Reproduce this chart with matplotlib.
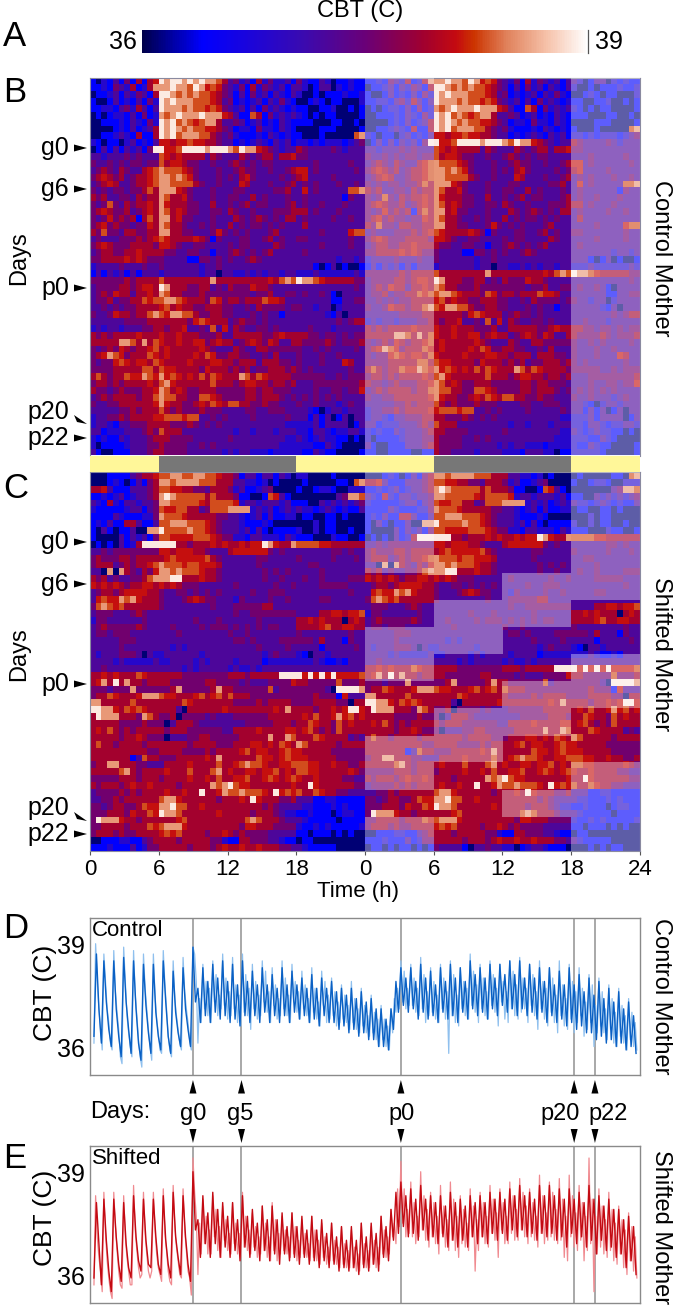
import numpy as np
import matplotlib
matplotlib.use("Agg")
import matplotlib.pyplot as plt
from matplotlib.colors import LinearSegmentedColormap, Normalize
from matplotlib.patches import Polygon, Rectangle

plt.rcParams['font.family'] = ['Liberation Sans', 'DejaVu Sans']

W, H = 675, 1306

# Temperature (C) for each digit used in the heatmap rows
temp_levels = [36.1, 36.4, 36.85, 37.25, 37.55, 37.9, 38.13, 38.3, 38.55, 38.9]

control_rows = [
    "102131415156 989989898875 342315242231 421132011211",
    "112143251258 889887986764 324152432313 320133021211",
    "011231324315 998787877654 313142313213 200101112112",
    "100131213142 989888777653 412123132421 001210110002",
    "112213425313 988878776764 323131423212 110011200101",
    "010122131412 878988898886 531175142323 210101100001",
    "001112132142 989787678853 343123121321 111000110010",
    "000012131235 989878776654 312214221321 000011100001",
    "001123215115 989788877543 421112132121 100010000078",
    "210110231213 665667665543 312123213231 221212221234",
    "013131323149 966799998999 879886543233 543333432333",
    "332333434333 765655553543 335434553556 443333333333",
    "433434344344 756654433433 454343443333 333433333433",
    "345435433567 877765433343 345443343345 663433333343",
    "456545345567 887876433343 435643333434 563333433333",
    "345653345567 887777543343 336533343345 343433343343",
    "434344344575 888654333433 344333334453 363433333778",
    "545334435455 875564333433 443353433343 343333331433",
    "434743545565 865554433533 434534433345 343343334333",
    "456544534565 875654433443 543343334445 553433343333",
    "434645451575 885644333433 354345434355 343333433433",
    "456454434465 875543343433 534344343433 353333333333",
    "547443554455 885544333464 343433345333 333343333677",
    "343334445456 765555654143 334433453433 443333333433",
    "456544455554 665433443333 434433335433 333343333433",
    "345544556555 544334433133 454343453333 343333333333",
    "445555656544 433331144343 433454333333 333333323323",
    "233334333433 433333323343 333333333333 333101301001",
    "131323131333 233333323303 322323233233 222322222232",
    "444444545555 755555555855 555555565787 988765555544",
    "344445545665 985554455343 544465543333 333333333343",
    "345465535565 875544454444 444434453344 343343103333",
    "344534455767 788765554764 554555766533 333333113344",
    "334343445555 675655445554 433435444434 433233023333",
    "433465545578 768877544554 433343433133 333332130333",
    "333333444455 555554676555 345443433333 333333343455",
    "232332333445 545563343736 354334434333 334333233333",
    "545455556555 655655544453 355555445655 554434434344",
    "555558875857 655655664565 534565465335 544445434445",
    "434546545567 565555565433 354335544444 433434333343",
    "456876455576 565555657644 554433435333 433343343333",
    "434467656657 655556555665 545553555443 433343336533",
    "444455555775 766555546555 454534455545 434333333433",
    "575455766876 867656575765 558757655554 444443343444",
    "455454555565 786555555755 545665545545 333444444445",
    "544345444556 875654455544 444554554443 333433443446",
    "345455554557 877554477654 444554555434 343434343333",
    "433445555556 865544565765 775544544333 433433323433",
    "333334454555 754544454443 333443344433 332102332333",
    "233445455556 677767733434 333343333343 331313013033",
    "233213344455 554445434343 333333333322 222313333013",
    "331222333454 755533333333 323323332333 221332122332",
    "212113233345 554444333333 433333333322 321232211010",
    "201111233344 544443343433 333333333222 222113210000",
    "310011133345 544443333332 323322212222 211321100001",
    "110011110011 544333323333 222133322011 222221000001",
]

shifted_rows = [
    "000111134556 778877887765 541331331320 220000100000",
    "000121013145 887888877755 533221201000 010000011078",
    "556311133345 776655443555 423112340000 100122100222",
    "112123123345 898777775755 541100176310 000000034887",
    "321521332334 887777765777 762332333231 110032323234",
    "211111233134 766775534777 888823231232 322123212113",
    "111132111224 877765555544 332123131122 011001101000",
    "121311553113 778887776543 332111210000 000201100000",
    "103101130088 977778776543 332313101111 200201100100",
    "100003132314 776666777654 422133222132 111000211001",
    "010103125999 999554555656 556566986558 777766555555",
    "334344444444 665666554333 566666643433 333333443433",
    "454445545555 567666667543 333334433333 433333433343",
    "455534545567 877767766653 333334333333 334433333333",
    "330808543546 887877765543 333333434343 333343333333",
    "545343344578 889955565543 333333433433 343343333444",
    "656565455665 656544433333 343333334334 333344444333",
    "345545666655 433443434343 333343344433 333333333433",
    "367668786555 433345654433 324333343343 333344333333",
    "478767555555 433333333433 344444553333 333333333333",
    "344433345433 333333333333 343344444444 333355665667",
    "244333333433 333333433343 333334333333 556565550565",
    "345444445433 334333343444 343434344333 555567556655",
    "344344433333 333433333333 433433333333 433333333433",
    "333334443333 333333333333 344343333444 444353331433",
    "333334333333 332323333333 333334333343 333313333343",
    "323334443032 233333323333 333333234333 210332333333",
    "333323222223 223333232333 323333122222 222321121333",
    "334333333333 333323233333 232232333333 333333333333",
    "556565557655 555544444444 555455555999 969696966667",
    "568595855455 554444445544 443433344446 554444474445",
    "444344484444 445844444585 544444473444 444443099998",
    "455765556888 766555675675 755544444444 444544416333",
    "885555575555 555576555555 544445455554 444555544055",
    "998865767655 555305555556 555555556585 555455656996",
    "598885554875 445044443433 344444455555 565755686756",
    "555554444544 403555433333 333444445554 557655475655",
    "565754545555 545554444443 355556555566 567545475555",
    "555554556544 403334455444 445555585587 555765555343",
    "575545555455 555554555544 455566565765 875555545555",
    "555555555544 555544445455 556756655676 655555444444",
    "555555513755 444555556585 555557665676 665555544444",
    "455885554433 355556555575 567877655667 776655655445",
    "555557854555 565557555785 655665667565 776655555654",
    "444445554555 455556556575 566755676567 655655554433",
    "545554565565 555455555878 976655555556 559655555544",
    "344445454555 565565595568 778777659676 755765544333",
    "334454555555 788655555545 556596555445 333112211111",
    "443455445766 889775565555 555555454333 322111212111",
    "444555465576 988755555565 555545554322 112111012211",
    "498886554555 555675555555 555787555433 321111101111",
    "445555455576 788865555555 554665554444 211212111112",
    "455545445555 676755554556 545444433333 110111010100",
    "001112211345 555455555442 115544433211 011000000000",
    "111211131244 555554555456 556556555443 321111100000",
    "011010110101 433331033433 220123321110 000101011000",
]

# Right half of panel C: lit hours per block of rows (block edges in rows)
shade_edges = [0, 14.7, 18.6, 22.5, 26.4, 30.4, 34.3, 38.3, 42.1, 46.2, 50.1, 55]
shade_spans = [
    [(0, 6), (18, 24)], [(12, 24)], [(6, 18)], [(0, 12)], [(0, 6), (18, 24)],
    [(12, 24)], [(6, 18)], [(0, 12)], [(0, 6), (18, 24)], [(12, 24)], [(0, 6), (18, 24)],
]

# Light/dark cycle along the bar, hours
cycle_edges = [0, 6, 18, 30, 42, 48]
cycle_colors = ['#fff799', '#777777', '#fff799', '#777777', '#fff799']

hour_ticks = [0, 6, 12, 18, 24, 30, 36, 42, 48]
hour_labels = ['0', '6', '12', '18', '0', '6', '12', '18', '24']

# Marked days on the bottom traces
mark_days = [10.0, 14.9, 31.0, 48.5, 50.6]
mark_labels = ['g0', 'g5', 'p0', 'p20', 'p22']

# Traces, 0.1 C. Light: six readings a day. Dark: four readings a day.
control_light = [
    362, 391, 380, 372, 366, 360, 388, 380, 372, 368, 362, 360,
    389, 377, 371, 366, 358, 356, 390, 380, 370, 365, 361, 358,
    389, 376, 370, 363, 358, 355, 388, 378, 372, 366, 361, 357,
    388, 376, 369, 365, 360, 359, 389, 379, 372, 364, 360, 358,
    386, 375, 370, 366, 362, 360, 387, 377, 372, 368, 363, 360,
    390, 388, 380, 362, 375, 368, 385, 372, 380, 370, 378, 368,
    386, 374, 382, 370, 376, 372, 388, 373, 381, 369, 377, 370,
    387, 372, 379, 368, 376, 367, 388, 371, 382, 370, 378, 366,
    385, 372, 380, 369, 376, 370, 386, 374, 383, 371, 377, 368,
    384, 373, 379, 369, 375, 370, 386, 372, 381, 370, 376, 368,
    385, 374, 380, 371, 377, 369, 383, 372, 379, 370, 375, 368,
    384, 371, 378, 369, 374, 367, 383, 373, 380, 368, 376, 369,
    381, 370, 377, 367, 374, 368, 379, 369, 376, 368, 373, 366,
    380, 368, 375, 366, 372, 365, 378, 367, 373, 365, 370, 364,
    376, 365, 371, 363, 369, 361, 373, 363, 369, 361, 367, 360,
    372, 365, 375, 371, 378, 372, 386, 374, 383, 372, 378, 373,
    385, 373, 381, 371, 378, 370, 387, 372, 382, 368, 377, 370,
    384, 371, 380, 369, 376, 368, 385, 372, 381, 369, 377, 359,
    386, 370, 382, 368, 376, 367, 384, 372, 380, 370, 378, 369,
    388, 373, 383, 371, 379, 368, 385, 372, 381, 370, 377, 369,
    386, 373, 382, 371, 378, 367, 385, 374, 380, 369, 377, 368,
    386, 372, 383, 370, 379, 369, 387, 371, 381, 372, 378, 368,
    385, 373, 382, 370, 377, 366, 386, 372, 380, 369, 378, 367,
    384, 371, 381, 368, 376, 365, 386, 370, 379, 367, 375, 366,
    385, 369, 380, 365, 377, 368, 384, 370, 378, 364, 374, 366,
    382, 368, 379, 361, 373, 365, 381, 367, 377, 365, 372, 363,
    379, 366, 375, 362, 371, 361, 378, 364, 373, 362, 370, 360,
    375, 363, 371, 361, 368, 360,
]
control_dark = [
    364, 388, 372, 362, 386, 374, 366, 361, 386, 372, 364, 358,
    387, 374, 366, 359, 386, 372, 362, 357, 385, 373, 365, 359,
    385, 371, 364, 360, 386, 374, 364, 359, 383, 371, 365, 361,
    384, 372, 366, 361, 390, 374, 378, 368, 384, 370, 380, 368,
    385, 371, 381, 369, 386, 370, 380, 368, 385, 369, 379, 367,
    386, 370, 380, 368, 383, 370, 379, 368, 384, 371, 379, 368,
    382, 370, 378, 368, 384, 370, 379, 368, 383, 371, 379, 369,
    381, 370, 378, 368, 382, 369, 378, 367, 381, 370, 378, 368,
    380, 368, 377, 366, 378, 367, 376, 365, 378, 366, 375, 364,
    377, 365, 374, 363, 375, 363, 372, 361, 372, 361, 369, 360,
    372, 366, 380, 371, 384, 373, 381, 371, 384, 372, 380, 369,
    385, 371, 381, 369, 383, 370, 379, 368, 384, 371, 380, 369,
    385, 370, 381, 368, 384, 371, 380, 369, 386, 372, 382, 370,
    384, 371, 381, 369, 385, 372, 381, 370, 385, 373, 382, 371,
    386, 372, 382, 370, 386, 372, 381, 370, 385, 371, 381, 369,
    384, 371, 380, 368, 384, 370, 379, 368, 383, 369, 379, 367,
    384, 368, 379, 366, 382, 367, 377, 365, 381, 365, 376, 363,
    380, 364, 375, 362, 378, 363, 374, 361, 377, 362, 372, 360,
    374, 361, 370, 359,
]
shifted_light = [
    358, 384, 372, 366, 362, 356, 385, 373, 365, 360, 356, 354,
    385, 375, 368, 362, 358, 357, 384, 372, 366, 362, 358, 358,
    387, 374, 368, 363, 360, 361, 385, 373, 367, 362, 360, 362,
    385, 374, 367, 363, 361, 359, 386, 373, 368, 362, 359, 358,
    387, 375, 369, 365, 361, 360, 386, 374, 368, 362, 360, 355,
    395, 385, 378, 361, 376, 367, 383, 370, 378, 367, 374, 367,
    384, 372, 380, 368, 375, 366, 381, 371, 377, 368, 373, 367,
    382, 370, 376, 367, 373, 366, 385, 369, 378, 368, 374, 367,
    379, 369, 375, 366, 372, 367, 381, 368, 376, 366, 372, 365,
    382, 368, 377, 365, 373, 367, 378, 368, 374, 367, 372, 366,
    379, 367, 375, 365, 371, 366, 377, 367, 373, 366, 370, 365,
    378, 366, 374, 365, 371, 364, 376, 366, 372, 364, 369, 365,
    376, 365, 371, 364, 369, 363, 375, 364, 370, 363, 368, 363,
    374, 363, 369, 362, 367, 362, 376, 364, 370, 363, 368, 363,
    375, 364, 371, 363, 369, 364, 378, 367, 374, 366, 372, 367,
    380, 372, 376, 370, 386, 375, 394, 376, 386, 372, 380, 373,
    388, 372, 382, 370, 378, 372, 391, 374, 384, 371, 380, 369,
    385, 372, 382, 370, 378, 367, 387, 373, 381, 369, 377, 368,
    388, 371, 383, 368, 378, 366, 384, 370, 380, 369, 376, 368,
    386, 372, 381, 362, 377, 368, 385, 372, 382, 370, 378, 369,
    387, 373, 383, 371, 379, 366, 386, 374, 382, 370, 378, 370,
    388, 373, 384, 371, 380, 371, 389, 374, 385, 372, 381, 370,
    386, 372, 382, 371, 378, 369, 390, 373, 384, 370, 379, 371,
    388, 372, 385, 371, 380, 370, 389, 371, 383, 366, 378, 365,
    390, 372, 384, 369, 379, 368, 387, 371, 382, 365, 378, 368,
    395, 370, 383, 356, 378, 367, 386, 369, 381, 367, 377, 366,
    385, 368, 380, 365, 376, 364, 381, 367, 377, 363, 374, 361,
    379, 365, 375, 362, 372, 360,
]
shifted_dark = [
    360, 382, 370, 358, 383, 371, 362, 356, 383, 372, 364, 359,
    382, 370, 363, 360, 384, 372, 365, 362, 383, 371, 364, 363,
    383, 372, 364, 361, 384, 371, 364, 360, 385, 372, 366, 361,
    384, 372, 364, 359, 391, 374, 377, 366, 384, 370, 379, 366,
    385, 370, 380, 366, 382, 369, 378, 366, 382, 368, 377, 365,
    384, 369, 378, 366, 380, 368, 376, 365, 381, 368, 377, 365,
    381, 367, 377, 364, 379, 367, 375, 365, 379, 366, 375, 364,
    378, 366, 374, 364, 378, 365, 374, 363, 377, 365, 373, 363,
    376, 364, 372, 362, 375, 363, 371, 362, 375, 363, 371, 361,
    376, 363, 372, 362, 376, 364, 373, 362, 378, 366, 375, 365,
    380, 371, 385, 373, 388, 375, 384, 372, 386, 373, 383, 371,
    387, 374, 383, 371, 384, 372, 382, 370, 384, 372, 381, 369,
    385, 371, 382, 369, 383, 371, 381, 369, 384, 372, 382, 370,
    384, 372, 382, 370, 385, 373, 383, 371, 385, 373, 383, 371,
    386, 374, 384, 372, 387, 374, 384, 372, 385, 373, 383, 371,
    387, 373, 384, 372, 387, 373, 384, 371, 386, 372, 383, 369,
    386, 373, 383, 370, 385, 372, 382, 369, 387, 371, 383, 367,
    384, 371, 381, 368, 383, 369, 380, 366, 380, 367, 377, 363,
    378, 365, 375, 361,
]

cmap = LinearSegmentedColormap.from_list('cbt', [
    (0.0, '#00004a'), (0.135, '#0000ff'), (0.36, '#3a0ab0'), (0.5, '#6a0078'),
    (0.63, '#a00030'), (0.705, '#c40a10'), (0.745, '#cc3400'), (0.82, '#e0825c'),
    (0.91, '#f6c2aa'), (1.0, '#ffffff'),
])
norm = Normalize(36, 39)


def axes_px(fig, left, top, right, bottom):
    """Axes placed by pixel box, y counted from the top of the image"""
    return fig.add_axes([left / W, 1 - bottom / H, (right - left) / W, (bottom - top) / H])


def parse_rows(rows):
    out = []
    for i, row in enumerate(rows):
        digits = "".join(row.split())
        if len(digits) != 48:
            raise ValueError(f"row {i} has {len(digits)} bins")
        out.append([temp_levels[int(c)] for c in digits])
    return np.array(out)


def draw_heat(ax, rows):
    """Double plot: each line shows one day and then the next"""
    m = parse_rows(rows)
    double = np.hstack([m[:-1], m[1:]])
    ax.pcolormesh(np.arange(97) / 2, np.arange(56), double, cmap=cmap, norm=norm, shading='flat')
    ax.set_xlim(0, 48)
    ax.set_ylim(55, 0)
    ax.set_yticks([])
    for s in ax.spines.values():
        s.set_color('#8a8aa0')
        s.set_linewidth(0.8)


def shade(ax, top, bottom, spans):
    for a, b in spans:
        ax.add_patch(Rectangle((24 + a, top), b - a, bottom - top, facecolor='#ffffff',
                               alpha=0.37, edgecolor='none', zorder=3))


def draw_trace(ax, light, dark, light_color, dark_color):
    for d in mark_days:
        ax.axvline(d, color='#9a9a9a', lw=1.2, zorder=1)
    ax.plot(np.arange(len(light)) / 6, np.array(light) / 10, color=light_color, lw=0.9, zorder=2)
    ax.plot(np.arange(len(dark)) / 4, np.array(dark) / 10, color=dark_color, lw=1.0, zorder=3)
    ax.set_xlim(-0.4, 55.15)
    ax.set_ylim(35.27, 39.85)
    ax.set_xticks([])
    ax.set_yticks([])
    for s in ax.spines.values():
        s.set_color('#8a8a8a')
        s.set_linewidth(1.0)


fig = plt.figure(figsize=(W / 100, H / 100), dpi=100)

# Colour bar
cax = axes_px(fig, 142, 29.5, 588, 53)
fig.colorbar(plt.cm.ScalarMappable(norm=norm, cmap=cmap), cax=cax, orientation='horizontal')
cax.set_xticks([])
for s in cax.spines.values():
    s.set_visible(False)

# Heatmaps
ax_b = axes_px(fig, 90, 77.5, 640, 455.5)
draw_heat(ax_b, control_rows)
ax_b.set_xticks([])
shade(ax_b, 0, 55, [(0, 6), (18, 24)])

ax_c = axes_px(fig, 90, 472, 640, 851)
draw_heat(ax_c, shifted_rows)
for i, spans in enumerate(shade_spans):
    shade(ax_c, shade_edges[i], shade_edges[i + 1], spans)
ax_c.set_xticks(hour_ticks)
ax_c.set_xticklabels(hour_labels, fontsize=16)
ax_c.tick_params(axis='x', length=3, width=0.8, color='#555555', pad=3)

# Light/dark bar
ax_bar = axes_px(fig, 90, 456, 640, 472)
for i, c in enumerate(cycle_colors):
    ax_bar.axvspan(cycle_edges[i], cycle_edges[i + 1], color=c, lw=0)
ax_bar.set_xlim(0, 48)
ax_bar.axis('off')

# Traces
ax_d = axes_px(fig, 90, 918, 640, 1075)
draw_trace(ax_d, control_light, control_dark, '#8fc0ee', '#0a60c4')
ax_e = axes_px(fig, 90, 1146, 640, 1303)
draw_trace(ax_e, shifted_light, shifted_dark, '#f08a90', '#c30a12')

# Everything else is placed on a page layer in image pixels
page = fig.add_axes([0, 0, 1, 1], zorder=10)
page.set_xlim(0, W)
page.set_ylim(H, 0)
page.axis('off')
page.patch.set_alpha(0)

for letter, y in [('A', 36), ('B', 92), ('C', 488), ('D', 929), ('E', 1159)]:
    page.text(3, y, letter, fontsize=25, va='center', ha='left')

page.text(360, 11, 'CBT (C)', fontsize=17, ha='center', va='center')
page.text(137, 42, '36', fontsize=18, ha='right', va='center')
page.text(595, 42, '39', fontsize=18, ha='left', va='center')
page.plot([587.5, 587.5], [29.5, 53], color='#555555', lw=0.9)
page.text(358, 892, 'Time (h)', fontsize=16, ha='center', va='center')


def day_mark(label, y_text, y_tip, slant=False):
    page.text(69, y_text, label, fontsize=18, ha='right', va='center')
    if slant:
        pts = [(87, y_tip + 5), (74, y_tip - 4), (77, y_tip + 3)]
    else:
        pts = [(87, y_tip), (74, y_tip - 3.5), (74, y_tip + 3.5)]
    page.add_patch(Polygon(pts, closed=True, color='black', lw=0))


for label, y_text, y_tip, slant in [
    ('g0', 148, 148, False), ('g6', 189, 189, False), ('p0', 288, 288, False),
    ('p20', 412, 419, True), ('p22', 438, 438, False),
    ('g0', 542, 542, False), ('g6', 584, 584, False), ('p0', 684, 684, False),
    ('p20', 808, 816, True), ('p22', 834, 834, False),
]:
    day_mark(label, y_text, y_tip, slant)

for y in [258, 654]:
    page.text(19, y, 'Days', fontsize=17, rotation=90, ha='center', va='center')

for text, y in [('Control Mother', 258), ('Shifted Mother', 654), ('Control Mother', 996), ('Shifted Mother', 1227)]:
    page.text(661, y, text, fontsize=17, rotation=-90, ha='center', va='center')

# Trace panel labels
page.text(92, 931, 'Control', fontsize=16, ha='left', va='center')
page.text(92, 1159, 'Shifted', fontsize=16, ha='left', va='center')
for y_39, y_36, y_mid in [(947, 1050, 993), (1175, 1278, 1218)]:
    page.text(71, y_39, '39', fontsize=18, ha='center', va='center')
    page.text(71, y_36, '36', fontsize=18, ha='center', va='center')
    page.text(45, y_mid, 'CBT (C)', fontsize=19, rotation=90, ha='center', va='center')

# Day arrows between the traces
page.text(90, 1112, 'Days:', fontsize=17, ha='left', va='center')
for d, label, x_text in zip(mark_days, mark_labels, [193, 240, 402, 560, 608]):
    x = ax_d.transData.transform((d, 36))[0]
    page.text(x_text, 1114, label, fontsize=17, ha='center', va='center')
    page.add_patch(Polygon([(x, 1080), (x - 3.5, 1093.5), (x + 3.5, 1093.5)], closed=True, color='black', lw=0))
    page.add_patch(Polygon([(x, 1143), (x - 3.5, 1129), (x + 3.5, 1129)], closed=True, color='black', lw=0))

fig.savefig('out.png', dpi=100)
